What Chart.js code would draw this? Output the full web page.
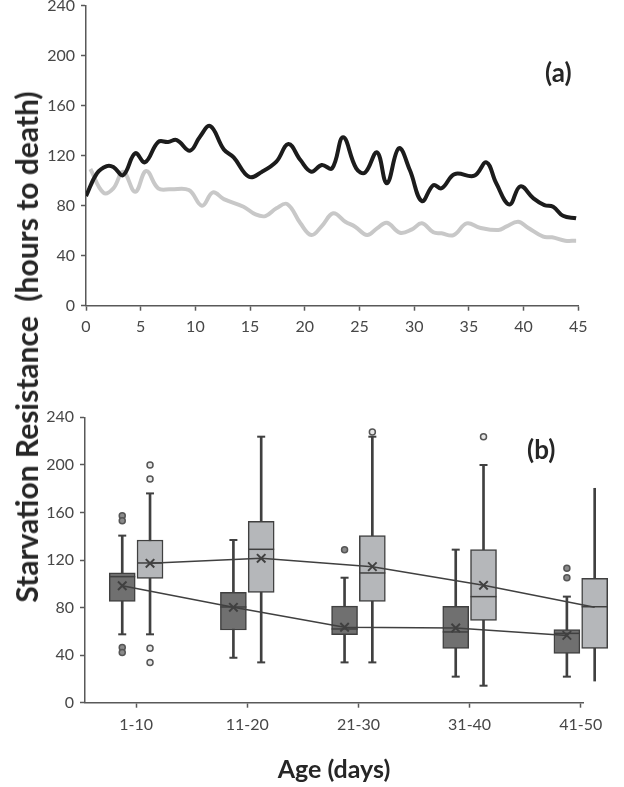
<!DOCTYPE html>
<html>
<head>
<meta charset="utf-8">
<script src="https://cdn.jsdelivr.net/npm/chart.js@4.4.1/dist/chart.umd.min.js"></script>
<style>
  html, body { margin: 0; padding: 0; background: #fff; }
  body { width: 624px; height: 787px; position: relative; overflow: hidden; font-family: Lato, "Open Sans", sans-serif; }
  canvas { position: absolute; left: 0; }
  #chartA { top: 0; }
  #chartB { top: 380px; }
  .ytitle { position: absolute; left: 26px; top: 347px; transform: translate(-50%, -50%) rotate(-90deg);
            white-space: pre; font-weight: bold; font-size: 30px; color: #262626; }
  .tag { position: absolute; font-weight: bold; font-size: 26px; line-height: 1; color: #262626; }
</style>
</head>
<body>
<canvas id="chartA" width="624" height="345"></canvas>
<canvas id="chartB" width="624" height="407"></canvas>
<div class="ytitle">Starvation Resistance  (hours to death)</div>
<div class="tag" style="left:545px; top:59px;">(a)</div>
<div class="tag" style="left:527px; top:436px;">(b)</div>
<script>
// panel (a): daily survival curves
const blackDays  = [0, 1.0, 1.9, 2.5, 3.4, 4.5, 5.4, 6.6, 7.5, 8.3, 9.5, 10.4, 11.35, 12.6, 13.5, 14.9, 16.1, 17.4, 18.5, 19.6, 20.6, 21.55, 22.5, 23.5, 24.7, 25.5, 26.6, 27.5, 28.6, 29.6, 30.7, 31.75, 32.5, 33.7, 35.5, 36.6, 37.5, 38.7, 39.7, 40.9, 41.9, 42.7, 43.6, 44.8];
const blackHours = [87.7, 105.9, 111.7, 111, 104.5, 121.9, 114.7, 131, 131, 132.5, 124, 135, 143.7, 125, 118.7, 103.2, 107.2, 115.2, 129.3, 116.5, 107.2, 112.5, 109.9, 134.7, 109.9, 106.4, 122.7, 97.9, 125.9, 108.5, 83.7, 96.5, 93.9, 105.3, 104, 114.7, 97.9, 81, 95.5, 85.9, 80.5, 79.2, 72, 69.9];
const grayDays   = [0.4, 1.6, 2.5, 3.4, 4.5, 5.5, 6.6, 7.7, 9.4, 10.6, 11.6, 12.6, 14.4, 15.5, 16.4, 17.4, 18.4, 19.6, 20.6, 21.55, 22.6, 23.7, 24.6, 25.7, 26.6, 27.5, 28.7, 29.8, 30.7, 31.75, 32.5, 33.6, 34.8, 36.0, 37.7, 38.4, 39.5, 40.4, 41.8, 42.6, 43.8, 44.8];
const grayHours  = [109.3, 90.4, 93.9, 107.2, 91.2, 107.7, 93.9, 93.1, 92.5, 80, 90.7, 85.3, 79.2, 73, 71.7, 77.9, 81.3, 65.9, 56.5, 63.7, 73.9, 67.2, 63.2, 56.5, 61.9, 66.4, 58.4, 61.1, 65.9, 58.7, 57.9, 56.5, 65.9, 62.4, 60.5, 63.2, 67.2, 62.4, 55.2, 54.7, 52, 52];

// panel (b): box plots per age class
const ages = ["1-10", "11-20", "21-30", "31-40", "41-50"];
const darkMin  = [57.5, 37.8, 33.9, 21.9, 21.9];
const darkQ1   = [85.2, 61.1, 57.2, 45.7, 41.5];
const darkMed  = [106, 80.5, 62, 59.5, 58.3];
const darkQ3   = [109.3, 92.8, 81.2, 81.1, 61.4];
const darkMax  = [140.5, 136.8, 105.1, 128.7, 89.2];
const darkMean = [98.4, 80.2, 63.4, 62.8, 56.6];
const darkOut  = [[157.3, 153, 46.5, 42.3], [], [128.7], [], [113, 105.1]];
const lightMin  = [57.5, 33.9, 33.9, 14.3, 18.2];
const lightQ1   = [104.6, 92.8, 85.2, 69.2, 45.7];
const lightMed  = [117.5, 129, 109.1, 89.2, 80.7];
const lightQ3   = [136.8, 152.5, 140.5, 128.7, 104.6];
const lightMax  = [176, 223.7, 223.7, 199.9, 180.3];
const lightMean = [117.2, 121.4, 114.4, 98.7, 80.2];
const lightOut  = [[199.9, 188.1, 45.7, 33.9], [], [227.6], [223.7], []];

const hourTicks = [0, 40, 80, 120, 160, 200, 240];

const fontFamily = 'Lato, "Open Sans", sans-serif';
const tickColor = "#474747";
const axisColor = "#595959";
const lineColor = "#404040";

Chart.defaults.font.family = fontFamily;

function axisStyle() {
  return {
    grid: { display: true, offset: false, drawOnChartArea: false, drawTicks: true, tickLength: 5, tickColor: axisColor, tickWidth: 1.5 },
    border: { display: true, color: axisColor, width: 1.5 }
  };
}

function pts(xs, ys) {
  return xs.map((x, i) => ({ x: x, y: ys[i] }));
}

// ---- chart (a)
new Chart(document.getElementById("chartA"), {
  type: "line",
  data: {
    datasets: [
      { data: pts(blackDays, blackHours), borderColor: "#1c1c1c", borderWidth: 4, tension: 0.4, pointRadius: 0 },
      { data: pts(grayDays, grayHours), borderColor: "#c8c8c8", borderWidth: 4, tension: 0.4, pointRadius: 0 }
    ]
  },
  options: {
    responsive: false, animation: false, events: [],
    layout: { padding: { top: 5.7, right: 45.7, left: 0, bottom: 0 } },
    plugins: { legend: { display: false }, tooltip: { enabled: false } },
    scales: {
      x: {
        type: "linear", min: 0, max: 45,
        ticks: { stepSize: 5, color: tickColor, font: { size: 16 }, padding: 7, maxRotation: 0 },
        ...axisStyle(),
        afterFit(s) { s.height = 39.3; s.paddingLeft = 0; s.paddingRight = 0; }
      },
      y: {
        min: 0, max: 240,
        afterBuildTicks(s) { s.ticks = hourTicks.map(v => ({ value: v })); },
        ticks: { color: tickColor, font: { size: 16 }, padding: 6 },
        ...axisStyle(),
        afterFit(s) { s.width = 86; s.paddingTop = 0; s.paddingBottom = 0; }
      }
    }
  }
});

// ---- chart (b)
const groupPos = ages.map((_, i) => i + 1);
const shift = 0.125;

function boxSets(mins, q1s, meds, q3s, maxs, means, outs, dx, fill, outFill) {
  const xs = groupPos.map(p => p + dx);
  const capPts = [];
  xs.forEach((x, i) => { capPts.push({ x: x, y: mins[i] }); capPts.push({ x: x, y: maxs[i] }); });
  const outPts = [];
  xs.forEach((x, i) => outs[i].forEach(v => outPts.push({ x: x, y: v })));
  return [
    { type: "bar", order: 10, clip: false, grouped: false, barThickness: 2, borderWidth: 0,
      backgroundColor: lineColor, data: xs.map((x, i) => ({ x: x, y: [mins[i], maxs[i]] })) },
    { type: "bar", order: 9, clip: false, grouped: false, barThickness: 26, borderWidth: 1.5, borderSkipped: false,
      backgroundColor: fill, borderColor: lineColor, data: xs.map((x, i) => ({ x: x, y: [q1s[i], q3s[i]] })) },
    { type: "scatter", order: 8, clip: false, pointStyle: "line", pointRadius: 4, pointBorderWidth: 2,
      borderColor: lineColor, pointBorderColor: lineColor, data: capPts },
    { type: "scatter", order: 7, clip: false, pointStyle: "line", pointRadius: 13, pointBorderWidth: 1.5,
      borderColor: lineColor, pointBorderColor: lineColor, data: pts(xs, meds) },
    { type: "line", order: 2, clip: false, borderColor: lineColor, borderWidth: 1.5, tension: 0,
      pointStyle: "crossRot", pointRadius: 6, pointBorderWidth: 2, pointBorderColor: lineColor, data: pts(xs, means) },
    { type: "scatter", order: 1, clip: false, pointStyle: "circle", pointRadius: 3, pointBorderWidth: 1.5,
      borderColor: "#555", pointBorderColor: "#555", pointBackgroundColor: outFill, backgroundColor: outFill, data: outPts }
  ];
}

new Chart(document.getElementById("chartB"), {
  type: "scatter",
  data: {
    datasets: [
      ...boxSets(darkMin, darkQ1, darkMed, darkQ3, darkMax, darkMean, darkOut, -shift, "#707070", "#8a8a8a"),
      ...boxSets(lightMin, lightQ1, lightMed, lightQ3, lightMax, lightMean, lightOut, shift, "#b5b7ba", "#e6e6e6")
    ]
  },
  options: {
    responsive: false, animation: false, events: [],
    layout: { padding: { top: 37.3, right: 41, left: 0, bottom: 0 } },
    plugins: { legend: { display: false }, tooltip: { enabled: false } },
    scales: {
      x: {
        type: "linear", bounds: "data", offset: false,
        afterDataLimits(s) { s.min = 0.54; s.max = 5.02; },
        afterBuildTicks(s) { s.ticks = groupPos.map(v => ({ value: v })); },
        ticks: { autoSkip: false, maxRotation: 0, color: tickColor, font: { size: 16 }, padding: 8,
                 callback: (v, i) => ages[i] },
        title: { display: true, text: "Age (days)", color: "#262626", font: { size: 25, weight: "bold" },
                 padding: { top: 0, bottom: 2 } },
        ...axisStyle(),
        afterFit(s) { s.height = 84.3; s.paddingLeft = 0; s.paddingRight = 0; }
      },
      y: {
        type: "linear", min: 0, max: 240,
        afterBuildTicks(s) { s.ticks = hourTicks.map(v => ({ value: v })); },
        ticks: { color: tickColor, font: { size: 16 }, padding: 6 },
        ...axisStyle(),
        afterFit(s) { s.width = 85; s.paddingTop = 0; s.paddingBottom = 0; }
      }
    }
  }
});
</script>
</body>
</html>
